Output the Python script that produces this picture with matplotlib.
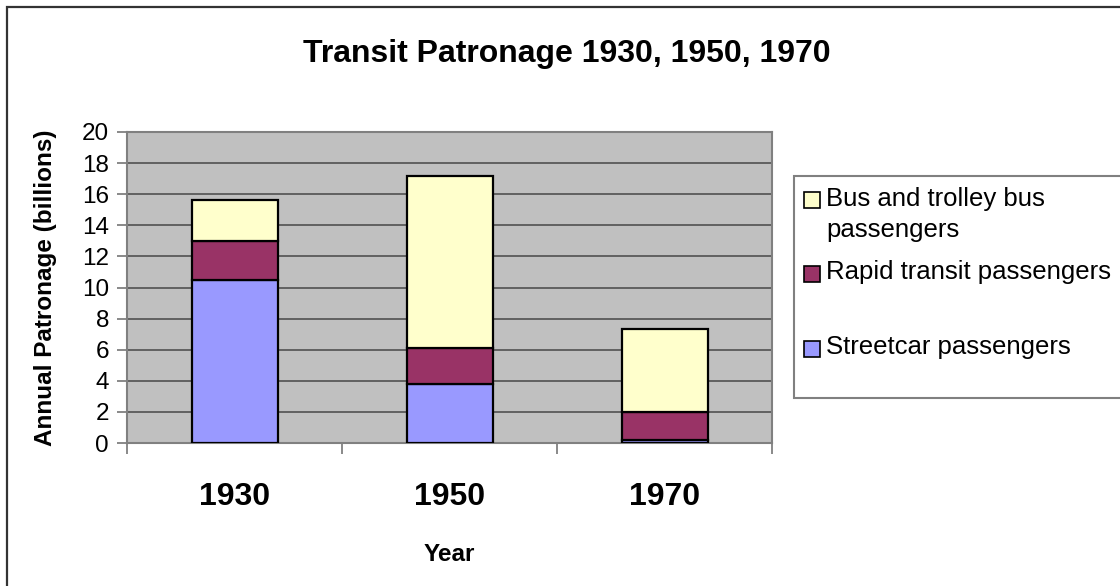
import matplotlib
matplotlib.use("Agg")
import matplotlib.pyplot as plt
from matplotlib.patches import Rectangle
import numpy as np

plt.rcParams['font.family'] = ['Liberation Sans', 'DejaVu Sans']

years = ["1930", "1950", "1970"]
streetcar = [10.5, 3.8, 0.2]
rapid = [2.5, 2.3, 1.8]
bus = [2.6, 11.1, 5.3]
series_names = ["Bus and trolley bus\npassengers", "Rapid transit passengers", "Streetcar passengers"]
colors = {"bus": "#FFFFCC", "rapid": "#993366", "street": "#9999FF"}
yticks = list(range(0, 21, 2))

W, H = 1120, 586
fig = plt.figure(figsize=(W / 100, H / 100), dpi=100)
fig.patch.set_facecolor("white")

def fx(px):
    return px / W

def fy(py):
    return 1 - py / H

# outer border
fig.patches.append(Rectangle((fx(7), fy(600)), fx(1130) - fx(7), fy(7) - fy(600),
                             transform=fig.transFigure, fill=False,
                             edgecolor="#333333", linewidth=1.6, zorder=0))

L, R, T, B = 127, 772, 132, 443
ax = fig.add_axes([fx(L), fy(B), fx(R) - fx(L), fy(T) - fy(B)])
ax.set_facecolor("#C0C0C0")

x = np.arange(len(years))
bw = 0.4
s = np.array(streetcar)
r = np.array(rapid)
b = np.array(bus)
ax.bar(x, s, bw, color=colors["street"], edgecolor="black", linewidth=1.6, zorder=3)
ax.bar(x, r, bw, bottom=s, color=colors["rapid"], edgecolor="black", linewidth=1.6, zorder=3)
ax.bar(x, b, bw, bottom=s + r, color=colors["bus"], edgecolor="black", linewidth=1.6, zorder=3)

ax.set_xlim(-0.5, len(years) - 0.5)
ax.set_ylim(0, 20)
ax.set_yticks(yticks)
ax.set_yticklabels([str(v) for v in yticks], fontsize=17.5)
ax.yaxis.grid(True, color="#5a5a5a", linewidth=1.3, zorder=1)
ax.set_axisbelow(True)

ax.set_xticks(x)
ax.set_xticklabels(years, fontsize=23, fontweight="bold")
ax.set_xticks(np.arange(-0.5, len(years), 1.0), minor=True)
ax.tick_params(axis="x", which="major", length=0, pad=28)
ax.tick_params(axis="x", which="minor", length=8, width=1.3, color="#808080", direction="out")
ax.tick_params(axis="y", length=7, width=1.3, color="#808080", direction="out", pad=6)

for sp in ax.spines.values():
    sp.set_color("#808080")
    sp.set_linewidth(1.5)

ax.set_ylabel("Annual Patronage (billions)", fontsize=17.5, fontweight="bold", va="center")
ax.yaxis.set_label_coords((46 - L) / (R - L), 0.5)
ax.set_xlabel("Year", fontsize=17.5, fontweight="bold", va="baseline")
ax.xaxis.set_label_coords(0.5, -(561 - B) / (B - T))

fig.text(fx(567), fy(62), "Transit Patronage 1930, 1950, 1970", fontsize=23,
         fontweight="bold", ha="center", va="baseline")

# legend
fig.patches.append(Rectangle((fx(794), fy(398)), fx(1135) - fx(794), fy(176) - fy(398),
                             transform=fig.transFigure, fill=True, facecolor="white",
                             edgecolor="#808080", linewidth=1.5, zorder=1))
entries = [
    (colors["bus"], series_names[0], 192, 206),
    (colors["rapid"], series_names[1], 266, 279),
    (colors["street"], series_names[2], 341, 354),
]
line_gap = 31.5
for col, lab, sq_top, base in entries:
    fig.patches.append(Rectangle((fx(804), fy(sq_top + 16)), fx(16), 16 / H,
                                 transform=fig.transFigure, facecolor=col,
                                 edgecolor="black", linewidth=1.2, zorder=2))
    for i, line in enumerate(lab.split("\n")):
        fig.text(fx(826), fy(base + i * line_gap), line, fontsize=18.5,
                 ha="left", va="baseline", zorder=3)

fig.savefig("out.png", dpi=100)
